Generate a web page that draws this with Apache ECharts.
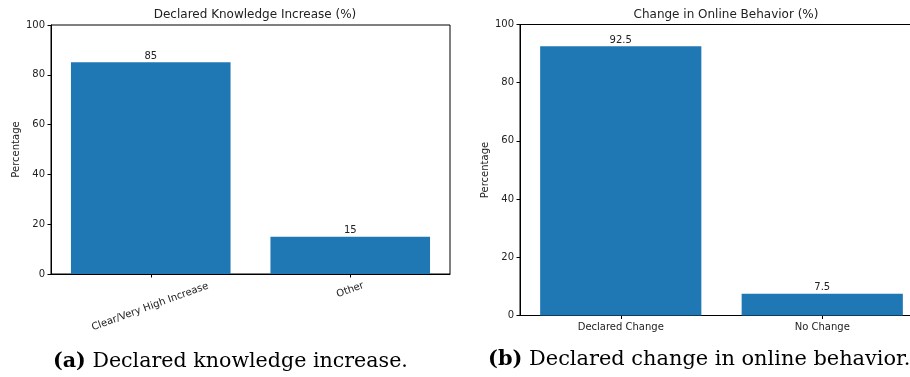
<!DOCTYPE html>
<html>
<head>
<meta charset="utf-8">
<script src="https://cdn.jsdelivr.net/npm/echarts@6/dist/echarts.min.js"></script>
<style>
html,body{margin:0;padding:0;background:#fff;}
#chart{width:910px;height:377px;}
</style>
</head>
<body>
<div id="chart"></div>
<script>
const leftTitle = 'Declared Knowledge Increase (%)';
const leftCategories = ['Clear/Very High Increase', 'Other'];
const leftValues = [85, 15];
const rightTitle = 'Change in Online Behavior (%)';
const rightCategories = ['Declared Change', 'No Change'];
const rightValues = [92.5, 7.5];
const yAxisName = 'Percentage';
const yMin = 0, yMax = 100, yInterval = 20;
const captionA = ['(a)', ' Declared knowledge increase.'];
const captionB = ['(b)', ' Declared change in online behavior.'];

const FONT = 'DejaVu Sans';
const TXT = '#222';
const LINE = '#000';
const BAR = '#1f77b4';

const chart = echarts.init(document.getElementById('chart'), null, {renderer: 'canvas'});

function yAxis(gridIndex) {
  return {
    type: 'value', gridIndex, min: yMin, max: yMax, interval: yInterval,
    name: yAxisName, nameLocation: 'middle', nameRotate: 90, nameGap: 30,
    nameTextStyle: {fontFamily: FONT, fontSize: 10, color: TXT},
    axisLine: {show: true, lineStyle: {color: LINE, width: 1}},
    axisTick: {show: true, length: 3.5, lineStyle: {color: LINE}},
    axisLabel: {fontFamily: FONT, fontSize: 10, color: TXT, margin: 6},
    splitLine: {show: false}
  };
}

// matplotlib-style centred rotated labels: long label pushed down/left so its box hangs below the tick
function rotatedLabel(value) {
  return value.length > 12 ? '\n\n' + value + '    ' : value;
}

const option = {
  animation: false,
  backgroundColor: '#fff',
  title: [
    {text: leftTitle, left: 250, top: 4, textAlign: 'center',
     textStyle: {fontFamily: FONT, fontSize: 12, fontWeight: 'normal', color: TXT}},
    {text: rightTitle, left: 721, top: 4, textAlign: 'center',
     textStyle: {fontFamily: FONT, fontSize: 12, fontWeight: 'normal', color: TXT}}
  ],
  grid: [
    {left: 51, top: 25, width: 399, height: 249, show: true, borderColor: LINE, borderWidth: 1, backgroundColor: 'transparent', outerBoundsMode: 'none'},
    {left: 520, top: 24.5, right: -13, height: 291, show: true, borderColor: LINE, borderWidth: 1, backgroundColor: 'transparent', outerBoundsMode: 'none'}
  ],
  xAxis: [
    {type: 'category', gridIndex: 0, data: leftCategories,
     axisLine: {show: true, lineStyle: {color: LINE}},
     axisTick: {show: true, alignWithLabel: true, length: 3.5, lineStyle: {color: LINE}},
     axisLabel: {fontFamily: FONT, fontSize: 10, color: TXT, rotate: 20, align: 'center', verticalAlign: 'middle',
                 lineHeight: 15.5, margin: 16, interval: 0, formatter: rotatedLabel}},
    {type: 'category', gridIndex: 1, data: rightCategories,
     axisLine: {show: true, lineStyle: {color: LINE}},
     axisTick: {show: true, alignWithLabel: true, length: 3.5, lineStyle: {color: LINE}},
     axisLabel: {fontFamily: FONT, fontSize: 10, color: TXT, margin: 7, interval: 0}}
  ],
  yAxis: [yAxis(0), yAxis(1)],
  series: [
    {type: 'bar', xAxisIndex: 0, yAxisIndex: 0, data: leftValues, barWidth: '80%',
     itemStyle: {color: BAR},
     label: {show: true, position: 'top', distance: 1, fontFamily: FONT, fontSize: 10, color: TXT}},
    {type: 'bar', xAxisIndex: 1, yAxisIndex: 1, data: rightValues, barWidth: '80%',
     itemStyle: {color: BAR},
     label: {show: true, position: 'top', distance: 1, fontFamily: FONT, fontSize: 10, color: TXT}}
  ],
  graphic: [
    {type: 'text', left: 53, top: 351,
     style: {text: '{b|' + captionA[0] + '}{r|' + captionA[1] + '}',
       rich: {b: {fontFamily: 'DejaVu Serif', fontWeight: 'bold', fontSize: 20.6, fill: '#000'},
              r: {fontFamily: 'DejaVu Serif', fontSize: 20.6, fill: '#000'}}}},
    {type: 'text', left: 488, top: 349,
     style: {text: '{b|' + captionB[0] + '}{r|' + captionB[1] + '}',
       rich: {b: {fontFamily: 'DejaVu Serif', fontWeight: 'bold', fontSize: 20.9, fill: '#000'},
              r: {fontFamily: 'DejaVu Serif', fontSize: 20.9, fill: '#000'}}}}
  ]
};
chart.setOption(option);
</script>
</body>
</html>
